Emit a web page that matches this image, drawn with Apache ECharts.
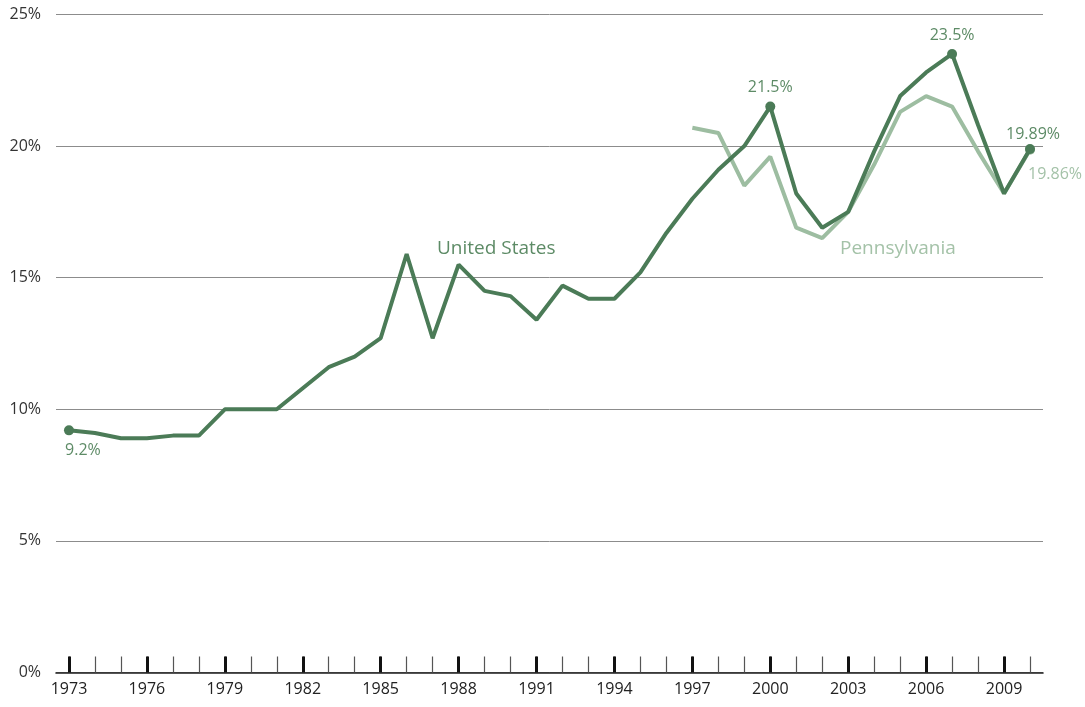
<!DOCTYPE html>
<html>
<head>
<meta charset="utf-8">
<script src="https://cdn.jsdelivr.net/npm/echarts@6/dist/echarts.min.js"></script>
<style>
  html, body { margin: 0; padding: 0; background: #ffffff; }
  #chart { width: 1085px; height: 707px; }
</style>
</head>
<body>
<div id="chart"></div>
<script>
// Years on the horizontal axis
const years = [
  1973, 1974, 1975, 1976, 1977, 1978, 1979, 1980, 1981, 1982,
  1983, 1984, 1985, 1986, 1987, 1988, 1989, 1990, 1991, 1992,
  1993, 1994, 1995, 1996, 1997, 1998, 1999, 2000, 2001, 2002,
  2003, 2004, 2005, 2006, 2007, 2008, 2009, 2010
];

// United States rate, percent
const usRate = [
  9.2, 9.1, 8.9, 8.9, 9.0, 9.0, 10.0, 10.0, 10.0, 10.8,
  11.6, 12.0, 12.7, 15.9, 12.7, 15.5, 14.5, 14.3, 13.4, 14.7,
  14.2, 14.2, 15.2, 16.7, 18.0, 19.1, 20.0, 21.5, 18.2, 16.9,
  17.5, 19.8, 21.9, 22.8, 23.5, 20.8, 18.2, 19.89
];

// Pennsylvania rate, percent (series begins in 1997)
const paYears = [1997, 1998, 1999, 2000, 2001, 2002, 2003, 2004, 2005, 2006, 2007, 2008, 2009, 2010];
const paRate = [20.7, 20.5, 18.5, 19.6, 16.9, 16.5, 17.5, 19.3, 21.3, 21.9, 21.5, 19.8, 18.2, 19.86];

// Tick labels on the value axis
const yTicks = [0, 5, 10, 15, 20, 25];

// Years whose points carry a dot and a value label
const usMarked = [1973, 2000, 2007, 2010];
const paMarked = [2010];

const US_COLOR = '#4b7b57';
const US_TEXT = '#5d8b66';
const PA_COLOR = '#9dbda1';
const PA_TEXT = '#a4c2a8';
const FONT = '"Open Sans", "Noto Sans", sans-serif';

const cats = years.map(String);

const usLabelPlacement = {
  1973: { position: 'bottom', distance: 7, offset: [14, 0] },
  2000: { position: 'top', distance: 6 },
  2007: { position: 'top', distance: 6 },
  2010: { position: 'top', distance: 2, offset: [3, 0] }
};

const usData = years.map((y, i) => {
  const v = usRate[i];
  if (usMarked.indexOf(y) < 0) return { value: [String(y), v], symbolSize: 0 };
  const p = usLabelPlacement[y];
  return {
    value: [String(y), v],
    symbolSize: 10,
    label: {
      show: true,
      position: p.position,
      distance: p.distance,
      offset: p.offset || [0, 0],
      formatter: v + '%',
      color: US_TEXT,
      fontSize: 16,
      fontFamily: FONT
    }
  };
});

const paData = paYears.map((y, i) => {
  const v = paRate[i];
  if (paMarked.indexOf(y) < 0) return { value: [String(y), v], symbolSize: 0 };
  return {
    value: [String(y), v],
    symbolSize: 10,
    label: {
      show: true,
      position: 'bottom',
      distance: 12,
      offset: [25, 0],
      formatter: v + '%',
      color: PA_TEXT,
      fontSize: 16,
      fontFamily: FONT
    }
  };
});

const chart = echarts.init(document.getElementById('chart'), null, { renderer: 'canvas' });

chart.setOption({
  backgroundColor: '#ffffff',
  animation: false,
  grid: { left: 56, right: 42, top: 14.5, bottom: 34.5, containLabel: false },
  xAxis: [
    {
      // every-year minor ticks and the base line
      type: 'category',
      data: cats,
      position: 'bottom',
      boundaryGap: true,
      axisLine: { show: true, lineStyle: { color: '#1e1e1e', width: 1.6 } },
      axisTick: {
        show: true, inside: true, length: 16, interval: 0, alignWithLabel: true,
        lineStyle: { color: '#555555', width: 1.2 }
      },
      axisLabel: { show: false },
      splitLine: { show: false }
    },
    {
      // heavier ticks and labels every third year
      type: 'category',
      data: cats,
      position: 'bottom',
      boundaryGap: true,
      axisLine: { show: false },
      axisTick: {
        show: true, inside: true, length: 16, interval: 2, alignWithLabel: true,
        lineStyle: { color: '#111111', width: 3 }
      },
      axisLabel: {
        show: true, interval: 2, margin: 9,
        color: '#222222', fontSize: 16, fontFamily: FONT
      },
      splitLine: { show: false }
    }
  ],
  yAxis: {
    type: 'value',
    min: yTicks[0],
    max: yTicks[yTicks.length - 1],
    interval: 5,
    axisLine: { show: false },
    axisTick: { show: false },
    axisLabel: {
      margin: 15, color: '#333333', fontSize: 16, fontFamily: FONT,
      formatter: v => v + '%'
    },
    splitLine: { show: true, lineStyle: { color: '#8c8c8c', width: 1 } }
  },
  series: [
    {
      name: 'Pennsylvania',
      type: 'line',
      xAxisIndex: 0,
      data: paData,
      symbol: 'circle',
      showSymbol: true,
      itemStyle: { color: PA_COLOR },
      lineStyle: { color: PA_COLOR, width: 4 },
      z: 3
    },
    {
      name: 'United States',
      type: 'line',
      xAxisIndex: 0,
      data: usData,
      symbol: 'circle',
      showSymbol: true,
      itemStyle: { color: US_COLOR },
      lineStyle: { color: US_COLOR, width: 4 },
      z: 4
    }
  ],
  graphic: [
    {
      type: 'text', left: 437, top: 239,
      style: { text: 'United States', fill: US_TEXT, font: '19px ' + FONT }
    },
    {
      type: 'text', left: 840, top: 239,
      style: { text: 'Pennsylvania', fill: PA_TEXT, font: '19px ' + FONT }
    }
  ]
});
</script>
</body>
</html>
